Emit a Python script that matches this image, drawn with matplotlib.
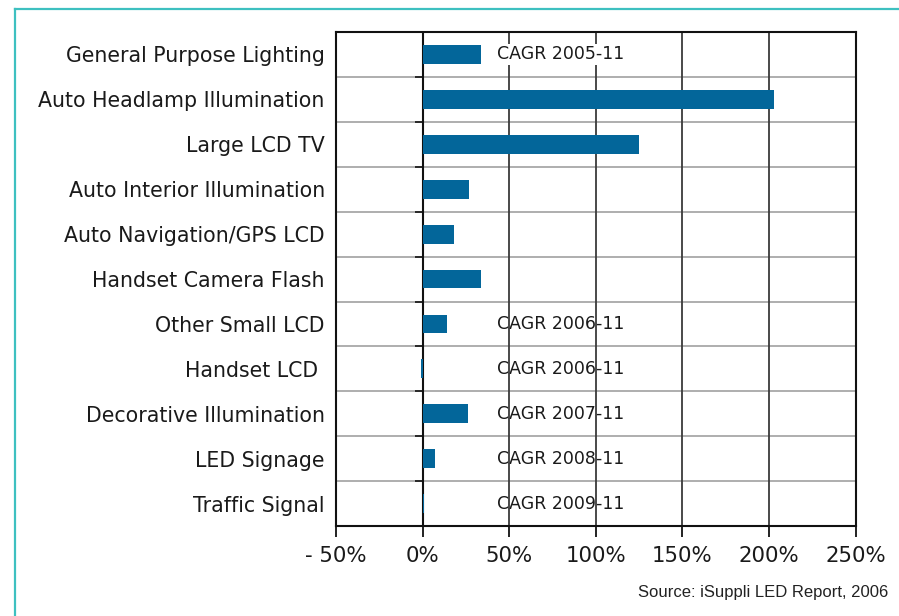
import matplotlib.pyplot as plt
from matplotlib.lines import Line2D
from matplotlib.markers import TICKLEFT

categories = [
    "General Purpose Lighting",
    "Auto Headlamp Illumination",
    "Large LCD TV",
    "Auto Interior Illumination",
    "Auto Navigation/GPS LCD",
    "Handset Camera Flash",
    "Other Small LCD",
    "Handset LCD ",
    "Decorative Illumination",
    "LED Signage",
    "Traffic Signal",
]
cagr = [34, 203, 125, 27, 18, 33.5, 14, -0.8, 26, 7, 1]
cagr_labels = {
    0: "CAGR 2005-11",
    6: "CAGR 2006-11",
    7: "CAGR 2006-11",
    8: "CAGR 2007-11",
    9: "CAGR 2008-11",
    10: "CAGR 2009-11",
}
xticks = [-50, 0, 50, 100, 150, 200, 250]
xtick_labels = ["- 50%", "0%", "50%", "100%", "150%", "200%", "250%"]

BAR = "#03669a"
TEAL = "#3ec0c0"
INK = "#1a1a1a"

fig = plt.figure(figsize=(8.99, 6.16), dpi=100)
ax = fig.add_axes([0.3737, 0.146, 0.578, 0.802])

y = list(range(len(categories)))
ax.barh(y, cagr, height=0.42, color=BAR, zorder=3)

# vertical grid lines (drawn over the CAGR notes, under the bars)
for xv in xticks[1:-1]:
    ax.axvline(xv, color="#3a3a3a" if xv else "#111111",
               linewidth=1.3 if xv else 1.5, zorder=2)
# row separators
for k in range(len(categories) - 1):
    ax.axhline(k + 0.5, color="#a8a8a8", linewidth=1.3, zorder=1.5)
# small ticks on the zero axis
ax.plot([0] * (len(categories) - 1), [k + 0.5 for k in range(len(categories) - 1)],
        linestyle="none", marker=TICKLEFT, markersize=6, color="#111111",
        markeredgewidth=1.2, zorder=4)

for idx, txt in cagr_labels.items():
    if idx == 0:
        ax.text(43, idx, txt, fontsize=12.5, va="center", ha="left", color=INK,
                zorder=5, bbox=dict(facecolor="white", edgecolor="none", pad=1))
    else:
        ax.text(43, idx, txt, fontsize=12.5, va="center", ha="left", color=INK,
                zorder=1)

ax.set_xlim(-50, 250)
ax.set_ylim(len(categories) - 0.5, -0.5)
ax.set_xticks(xticks)
ax.set_xticklabels(xtick_labels, fontsize=15.3, color=INK)
ax.set_yticks(y)
ax.set_yticklabels(categories, fontsize=14.8, color=INK)
ax.tick_params(axis="y", length=0, pad=8)
ax.tick_params(axis="x", direction="out", length=8, width=1.3, pad=6, color="#111111")
for s in ax.spines.values():
    s.set_color("#111111")
    s.set_linewidth(1.5)

fig.text(0.988, 0.038, "Source: iSuppli LED Report, 2006", ha="right", va="center",
         fontsize=12, family="Liberation Sans", color="#222222")

# slide frame
fig.add_artist(Line2D([0.0167, 0.0167], [0, 0.985], color=TEAL, linewidth=1.6,
                      transform=fig.transFigure))
fig.add_artist(Line2D([0.0167, 1.0], [0.985, 0.985], color=TEAL, linewidth=1.6,
                      transform=fig.transFigure))

fig.savefig("out.png", dpi=100)
